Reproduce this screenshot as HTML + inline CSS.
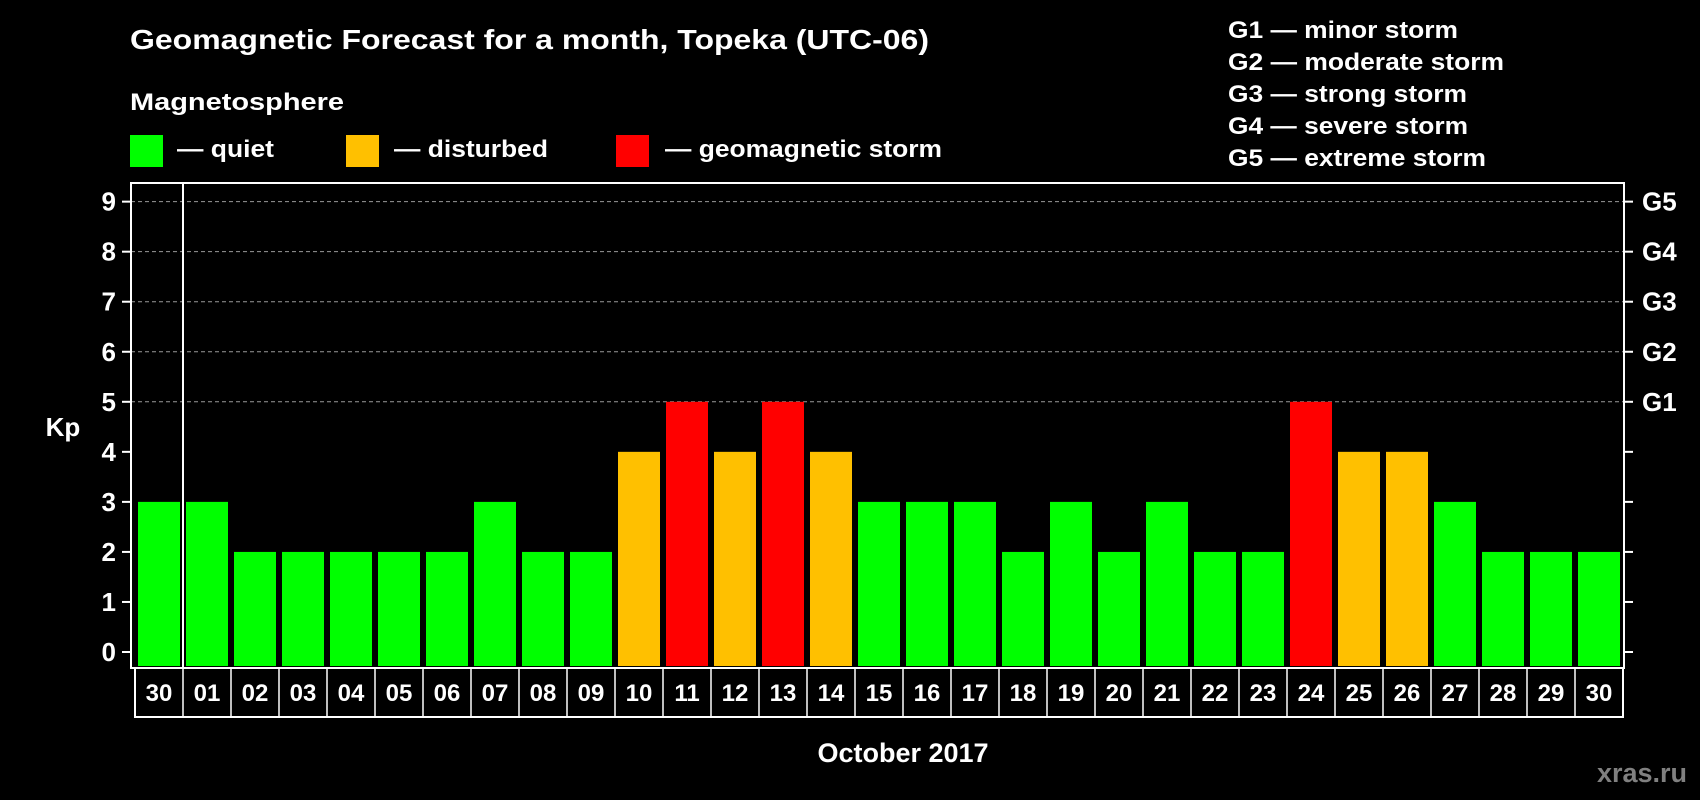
<!DOCTYPE html>
<html><head><meta charset="utf-8"><style>
html,body{margin:0;padding:0;background:#000;}
svg{display:block;font-family:"Liberation Sans",Arial,sans-serif;font-weight:bold;}
</style></head><body>
<svg id="chart" width="1700" height="800" viewBox="0 0 1700 800">
<rect x="0" y="0" width="1700" height="800" fill="#000"/>
<text x="130" y="49" font-size="28" fill="#fff" textLength="799" lengthAdjust="spacingAndGlyphs">Geomagnetic Forecast for a month, Topeka (UTC-06)</text>
<text x="130" y="110" font-size="24" fill="#fff" textLength="214" lengthAdjust="spacingAndGlyphs">Magnetosphere</text>
<rect x="130" y="135" width="33" height="32" fill="#00ff00"/>
<text x="177" y="157" font-size="24" fill="#fff" textLength="97" lengthAdjust="spacingAndGlyphs">— quiet</text>
<rect x="346" y="135" width="33" height="32" fill="#ffc000"/>
<text x="394" y="157" font-size="24" fill="#fff" textLength="154" lengthAdjust="spacingAndGlyphs">— disturbed</text>
<rect x="616" y="135" width="33" height="32" fill="#ff0000"/>
<text x="665" y="157" font-size="24" fill="#fff" textLength="277" lengthAdjust="spacingAndGlyphs">— geomagnetic storm</text>
<g>
<text x="1228" y="38" font-size="24" fill="#fff" textLength="230" lengthAdjust="spacingAndGlyphs">G1 — minor storm</text>
<text x="1228" y="70" font-size="24" fill="#fff" textLength="276" lengthAdjust="spacingAndGlyphs">G2 — moderate storm</text>
<text x="1228" y="102" font-size="24" fill="#fff" textLength="239" lengthAdjust="spacingAndGlyphs">G3 — strong storm</text>
<text x="1228" y="134" font-size="24" fill="#fff" textLength="240" lengthAdjust="spacingAndGlyphs">G4 — severe storm</text>
<text x="1228" y="166" font-size="24" fill="#fff" textLength="258" lengthAdjust="spacingAndGlyphs">G5 — extreme storm</text>
</g>
<text x="63" y="436" font-size="26" fill="#fff" text-anchor="middle">Kp</text>
<text x="903" y="762" font-size="27" fill="#fff" text-anchor="middle">October 2017</text>
<text x="1642" y="782" font-size="27" fill="#808080" text-anchor="middle">xras.ru</text>
<g id="grid"></g>
<g id="bars"></g>
<g id="axes"></g>
</svg>
<script>
const days = ["30","01","02","03","04","05","06","07","08","09","10","11","12","13","14","15","16","17","18","19","20","21","22","23","24","25","26","27","28","29","30"];
const kpValues = [3,3,2,2,2,2,2,3,2,2,4,5,4,5,4,3,3,3,2,3,2,3,2,2,5,4,4,3,2,2,2];
const yTicks = [0,1,2,3,4,5,6,7,8,9];
const gLabels = ["G1","G2","G3","G4","G5"];
const gLevels = [5,6,7,8,9];

const NS = "http://www.w3.org/2000/svg";
const plotL = 131, plotR = 1624, plotT = 183, plotB = 668;
const y0 = 652, unit = 50.04;
const firstX = 138, pitch = 48, barW = 42;
function yScale(v){ return y0 - v*unit; }
function xScale(i){ return firstX + i*pitch; }
function colorFor(v){ return v>=5 ? "#ff0000" : (v>=4 ? "#ffc000" : "#00ff00"); }
function mk(tag, attrs, parent){
  const e = document.createElementNS(NS, tag);
  for (const k in attrs) e.setAttribute(k, attrs[k]);
  parent.appendChild(e); return e;
}
const grid = document.getElementById("grid");
const bars = document.getElementById("bars");
const axes = document.getElementById("axes");

gLevels.forEach((lv, i) => {
  const y = yScale(lv);
  const l = mk("line", {x1:plotL, x2:plotR, y1:y, y2:y, stroke:"#999", "stroke-width":1, "stroke-dasharray":"4,3"}, grid);
  
  
  const t = mk("text", {x:1642, y:y+9, "font-size":26, fill:"#fff"}, axes);
  t.textContent = gLabels[i];
  
  
});

kpValues.forEach((v, i) => {
  const r = mk("rect", {x:xScale(i), y:yScale(v), width:barW, height:plotB - 2 - yScale(v), fill:colorFor(v)}, bars);
  
  
});

yTicks.forEach(v => {
  const y = yScale(v);
  const tl = mk("line", {x1:122, x2:plotL, y1:y, y2:y, stroke:"#fff", "stroke-width":2}, axes);
  
  
  const tr = mk("line", {x1:plotR, x2:1633, y1:y, y2:y, stroke:"#fff", "stroke-width":2}, axes);
  
  
  const t = mk("text", {x:116, y:y+9, "font-size":26, fill:"#fff", "text-anchor":"end"}, axes);
  t.textContent = v;
  
  
});

const frame = mk("rect", {x:plotL, y:plotT, width:plotR-plotL, height:plotB-plotT, fill:"none", stroke:"#fff", "stroke-width":2}, axes);


const div = mk("line", {x1:183, x2:183, y1:plotT, y2:plotB, stroke:"#fff", "stroke-width":2}, axes);



const boxL = 135, boxT = 668, boxB = 717;
const boxR = boxL + days.length*pitch;
const lb = mk("rect", {x:boxL, y:boxT, width:boxR-boxL, height:boxB-boxT, fill:"none", stroke:"#fff", "stroke-width":2}, axes);


days.forEach((d, i) => {
  const cx = boxL + i*pitch;
  if (i > 0) {
    const l = mk("line", {x1:cx, x2:cx, y1:boxT, y2:boxB, stroke:"#fff", "stroke-width":1.5}, axes);
    
    
  }
  const t = mk("text", {x:cx + pitch/2, y:701, "font-size":24, fill:"#fff", "text-anchor":"middle"}, axes);
  t.textContent = d;
  
  
});
</script>
</body></html>
